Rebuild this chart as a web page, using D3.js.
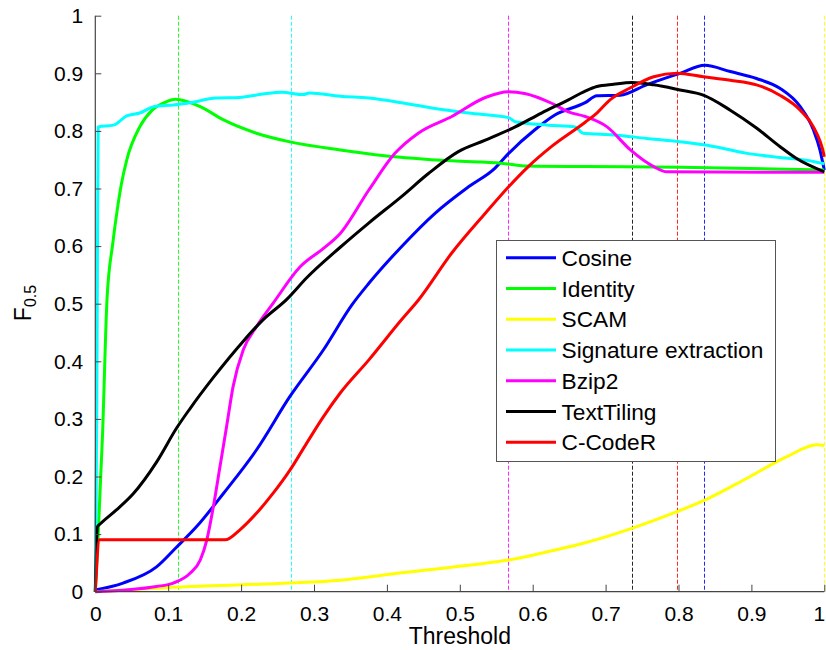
<!DOCTYPE html>
<html>
<head>
<meta charset="utf-8">
<script src="https://cdn.jsdelivr.net/npm/d3@7/dist/d3.min.js"></script>
<style>
  html, body { margin: 0; padding: 0; background: #fff; }
  svg { display: block; font-family: "Liberation Sans", Arial, sans-serif; }
</style>
</head>
<body>
<svg id="chart" width="826" height="650"></svg>
<script>
// ---- data ----
const seriesNames = ["Cosine", "Identity", "SCAM", "Signature extraction", "Bzip2", "TextTiling", "C-CodeR"];
const seriesColors = ["#0000ff", "#00ff00", "#ffff00", "#00ffff", "#ff00ff", "#000000", "#ff0000"];

const cosine = [[0,0.003],[0.038,0.015],[0.084,0.043],[0.112,0.078],[0.139,0.113],[0.176,0.171],[0.221,0.246],[0.267,0.339],[0.313,0.420],[0.352,0.498],[0.375,0.535],[0.420,0.599],[0.466,0.657],[0.512,0.703],[0.548,0.735],[0.567,0.761],[0.603,0.802],[0.631,0.828],[0.672,0.849],[0.688,0.861],[0.720,0.862],[0.756,0.880],[0.802,0.900],[0.836,0.914],[0.871,0.903],[0.907,0.891],[0.939,0.874],[0.967,0.842],[0.985,0.802],[0.994,0.767],[0.998,0.744],[1.0,0.732]];
const identity = [[0,0],[0.004,0.1],[0.010,0.275],[0.016,0.506],[0.024,0.605],[0.030,0.662],[0.036,0.709],[0.043,0.749],[0.061,0.807],[0.078,0.836],[0.098,0.851],[0.110,0.855],[0.144,0.842],[0.176,0.819],[0.221,0.796],[0.267,0.781],[0.336,0.767],[0.397,0.757],[0.489,0.748],[0.557,0.744],[0.594,0.739],[0.672,0.738],[0.802,0.737],[1.0,0.732]];
const scam = [[0,0],[0.130,0.009],[0.267,0.015],[0.336,0.020],[0.420,0.033],[0.512,0.046],[0.567,0.055],[0.626,0.071],[0.672,0.085],[0.736,0.110],[0.798,0.139],[0.836,0.159],[0.894,0.197],[0.948,0.234],[0.990,0.255],[1.0,0.254]];
const signature = [[0,0],[0.002,0.3],[0.003,0.6],[0.004,0.807],[0.025,0.810],[0.043,0.826],[0.061,0.831],[0.080,0.842],[0.107,0.845],[0.130,0.849],[0.166,0.857],[0.198,0.858],[0.230,0.864],[0.256,0.867],[0.285,0.863],[0.294,0.866],[0.336,0.860],[0.375,0.857],[0.420,0.849],[0.466,0.839],[0.512,0.831],[0.567,0.823],[0.576,0.816],[0.621,0.810],[0.658,0.807],[0.669,0.796],[0.711,0.793],[0.756,0.787],[0.802,0.781],[0.848,0.773],[0.894,0.761],[0.939,0.754],[0.985,0.747],[1.0,0.743]];
const bzip2 = [[0,0],[0.084,0.009],[0.107,0.015],[0.130,0.032],[0.144,0.055],[0.153,0.090],[0.162,0.148],[0.171,0.217],[0.180,0.286],[0.189,0.356],[0.203,0.420],[0.221,0.460],[0.244,0.501],[0.281,0.564],[0.313,0.596],[0.336,0.622],[0.375,0.697],[0.411,0.761],[0.443,0.796],[0.489,0.825],[0.535,0.858],[0.567,0.868],[0.589,0.865],[0.626,0.848],[0.649,0.833],[0.672,0.825],[0.702,0.807],[0.734,0.767],[0.766,0.738],[0.784,0.729],[1.0,0.728]];
const textTiling = [[0,0],[0.003,0.113],[0.007,0.118],[0.029,0.142],[0.052,0.170],[0.084,0.225],[0.112,0.285],[0.130,0.318],[0.162,0.372],[0.203,0.435],[0.230,0.472],[0.263,0.508],[0.290,0.545],[0.336,0.598],[0.375,0.640],[0.420,0.686],[0.457,0.726],[0.498,0.764],[0.535,0.784],[0.576,0.807],[0.612,0.831],[0.649,0.854],[0.672,0.869],[0.688,0.877],[0.711,0.881],[0.736,0.884],[0.766,0.880],[0.802,0.871],[0.834,0.862],[0.871,0.836],[0.907,0.805],[0.939,0.773],[0.962,0.752],[1.0,0.729]];
const cCodeR = [[0,0],[0.006,0.09],[0.178,0.09],[0.198,0.107],[0.221,0.136],[0.244,0.171],[0.267,0.211],[0.290,0.258],[0.313,0.304],[0.336,0.345],[0.375,0.402],[0.420,0.472],[0.443,0.506],[0.489,0.588],[0.535,0.657],[0.567,0.703],[0.594,0.738],[0.626,0.773],[0.672,0.815],[0.688,0.831],[0.706,0.854],[0.733,0.874],[0.766,0.894],[0.798,0.900],[0.834,0.894],[0.871,0.888],[0.907,0.880],[0.939,0.862],[0.967,0.836],[0.985,0.807],[0.999,0.761],[1.0,0.755]];

// best threshold of each method (vertical dashed markers), in the same order
const bestThresholds = [0.835, 0.113, 1.0, 0.268, 0.566, 0.736, 0.798];

const xTicks = [0, 0.1, 0.2, 0.3, 0.4, 0.5, 0.6, 0.7, 0.8, 0.9, 1];
const yTicks = [0, 0.1, 0.2, 0.3, 0.4, 0.5, 0.6, 0.7, 0.8, 0.9, 1];
const xLabel = "Threshold";

const seriesData = [cosine, identity, scam, signature, bzip2, textTiling, cCodeR];

// ---- drawing ----
(function () {
const svg = d3.select("#chart");
const pLeft = 95.3, pRight = 824.3, pTop = 15.7, pBottom = 591.7;
const x = d3.scaleLinear().domain([0, 1]).range([pLeft, pRight]);
const y = d3.scaleLinear().domain([0, 1]).range([pBottom, pTop]);

// dashed markers
svg.append("g").selectAll("line").data(bestThresholds).join("line")
  .attr("x1", d => Math.round(x(d)) + 0.5).attr("x2", d => Math.round(x(d)) + 0.5)
  .attr("y1", y(1)).attr("y2", y(0))
  .attr("stroke", (d, i) => seriesColors[i])
  .attr("stroke-opacity", 0.85)
  .attr("stroke-width", 1)
  .attr("stroke-dasharray", "4,2");

// curves
const line = d3.line().x(d => x(d[0])).y(d => y(d[1])).curve(d3.curveMonotoneX);
svg.append("g").selectAll("path").data(seriesData).join("path")
  .attr("d", line)
  .attr("fill", "none")
  .attr("stroke", (d, i) => seriesColors[i])
  .attr("stroke-width", 3)
  .attr("stroke-linejoin", "round");

// axes (ticks pointing inward)
const fontSize = 21;
const fmt = d => String(+d.toFixed(1));
const xAxis = d3.axisBottom(x).tickValues(xTicks).tickSize(-7).tickPadding(14).tickFormat(fmt);
const yAxis = d3.axisLeft(y).tickValues(yTicks).tickSize(-6).tickPadding(12).tickFormat(fmt);

const gx = svg.append("g").attr("transform", `translate(0,${pBottom})`).call(xAxis);
const gy = svg.append("g").attr("transform", `translate(${pLeft},0)`).call(yAxis);
[gx, gy].forEach(g => {
  g.select(".domain").attr("stroke", "#444").attr("stroke-width", 1.2);
  g.selectAll(".tick line").attr("stroke", "#444");
  g.selectAll(".tick text").attr("fill", "#000").attr("font-size", fontSize)
    .attr("font-family", "Liberation Sans, Arial, sans-serif");
});
gx.select(".domain").attr("d", `M${pLeft},0H${pRight}`);
gy.select(".domain").attr("d", `M0,${pBottom}V${pTop}`);
// keep the last x tick label inside the page edge
gx.selectAll(".tick text").filter(d => d === 1).attr("text-anchor", "end").attr("dx", 0.5);

// axis titles
svg.append("text").attr("x", (pLeft + pRight) / 2).attr("y", 644)
  .attr("text-anchor", "middle").attr("font-size", 23).text(xLabel);
const yl = svg.append("text").attr("transform", "translate(31,303) rotate(-90)")
  .attr("text-anchor", "middle").attr("font-size", 23);
yl.append("tspan").text("F");
yl.append("tspan").attr("font-size", 16).attr("dy", 5).text("0.5");

// legend
const lg = svg.append("g");
const lx = 496, ly = 240, lw = 279, lh = 221;
lg.append("rect").attr("x", lx + 0.5).attr("y", ly + 0.5).attr("width", lw).attr("height", lh)
  .attr("fill", "#fff").attr("stroke", "#555").attr("stroke-width", 1);
const rowY = d3.scaleLinear().domain([0, seriesNames.length - 1]).range([257.7, 442.3]);
seriesNames.forEach((name, i) => {
  lg.append("line").attr("x1", 506).attr("x2", 556).attr("y1", rowY(i)).attr("y2", rowY(i))
    .attr("stroke", seriesColors[i]).attr("stroke-width", 3);
  lg.append("text").attr("x", 561.5).attr("y", rowY(i)).attr("dy", "0.36em")
    .attr("font-size", 22.7).attr("fill", "#000").text(name);
});
})();
</script>
</body>
</html>
